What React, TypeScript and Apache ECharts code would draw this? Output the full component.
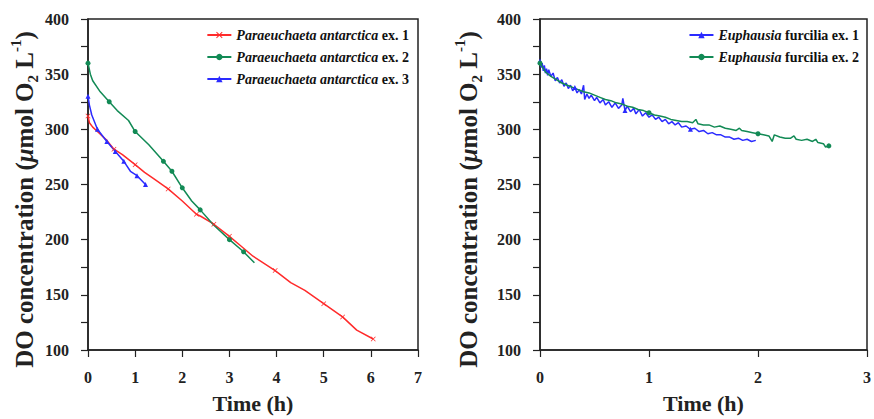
import React, { useEffect, useRef } from "react";
import * as echarts from "echarts";

// Left panel: Paraeuchaeta antarctica (time h, DO µmol O2 L-1)
const para1: number[][] = [
  [0, 312], [0.03, 306], [0.1, 302], [0.2, 298], [0.4, 290], [0.55, 282], [0.73, 277], [1.0, 268], [1.2, 261],
  [1.4, 255], [1.7, 246], [2.0, 235], [2.3, 223], [2.4, 221], [2.67, 214], [3.0, 203], [3.25, 194], [3.5, 185],
  [3.97, 172], [4.3, 161], [4.6, 154], [5.0, 142], [5.4, 130], [5.7, 118], [6.05, 110],
];
const para2: number[][] = [
  [0, 360], [0.05, 350], [0.1, 344], [0.26, 334], [0.45, 325], [0.62, 317], [0.86, 308], [1.0, 298], [1.29, 286],
  [1.6, 271], [1.78, 262], [2.0, 247], [2.2, 235], [2.38, 227], [2.67, 213], [3.0, 200], [3.3, 189],
  [3.53, 179],
];
const para3: number[][] = [
  [0, 330], [0.03, 322], [0.08, 313], [0.2, 300], [0.4, 289], [0.58, 280], [0.76, 271], [0.9, 262], [1.04, 258],
  [1.22, 250],
];

// Right panel: Euphausia furcilia
const euph1: number[][] = [
  [0, 362], [0.01, 356], [0.02, 360], [0.03, 353], [0.04, 358], [0.05, 351], [0.06, 355], [0.07, 349],
  [0.08, 354], [0.1, 348], [0.12, 351], [0.14, 344], [0.16, 347], [0.18, 342], [0.2, 345], [0.22, 339],
  [0.24, 342], [0.26, 337], [0.28, 340], [0.3, 335], [0.32, 338], [0.34, 333], [0.36, 336], [0.38, 332],
  [0.4, 340], [0.41, 327], [0.43, 332], [0.45, 328], [0.47, 331], [0.5, 326], [0.52, 329], [0.55, 324],
  [0.58, 327], [0.6, 322], [0.63, 325], [0.66, 320], [0.69, 324], [0.72, 319], [0.75, 322], [0.76, 328],
  [0.78, 317], [0.8, 321], [0.83, 316], [0.86, 319], [0.88, 314], [0.91, 318], [0.94, 312], [0.97, 315],
  [1.0, 311], [1.03, 313], [1.06, 309], [1.09, 311], [1.12, 307], [1.15, 309], [1.18, 305], [1.21, 307],
  [1.24, 304], [1.27, 306], [1.3, 302], [1.34, 303], [1.38, 300], [1.42, 301], [1.46, 298], [1.5, 299],
  [1.54, 296], [1.58, 297], [1.62, 295], [1.66, 295], [1.7, 293], [1.74, 293], [1.78, 291], [1.82, 292],
  [1.86, 290], [1.9, 291], [1.94, 289], [1.98, 290],
];
const euph2: number[][] = [
  [0, 360], [0.05, 352], [0.1, 348], [0.15, 345], [0.2, 342], [0.25, 340], [0.3, 338], [0.35, 336],
  [0.4, 334], [0.45, 333], [0.5, 331], [0.55, 329], [0.6, 327], [0.65, 326], [0.7, 324], [0.75, 323],
  [0.8, 321], [0.85, 320], [0.9, 318], [0.95, 317], [1.0, 315], [1.05, 313], [1.1, 312], [1.15, 311],
  [1.2, 309], [1.25, 308], [1.3, 307], [1.35, 307], [1.4, 306], [1.43, 309], [1.45, 305], [1.5, 304],
  [1.55, 304], [1.6, 302], [1.65, 303], [1.7, 301], [1.75, 300], [1.8, 299], [1.83, 301], [1.85, 299],
  [1.9, 298], [1.95, 297], [2.0, 296], [2.05, 295], [2.1, 294], [2.13, 289], [2.15, 295], [2.2, 293],
  [2.25, 292], [2.3, 292], [2.33, 294], [2.35, 291], [2.4, 290], [2.45, 291], [2.5, 289], [2.53, 291],
  [2.55, 288], [2.6, 287], [2.62, 284], [2.65, 285],
];

const names = [
  "Paraeuchaeta antarctica ex. 1",
  "Paraeuchaeta antarctica ex. 2",
  "Paraeuchaeta antarctica ex. 3",
  "Euphausia furcilia ex. 1",
  "Euphausia furcilia ex. 2",
];

const RED = "#ff2b2b";
const GREEN = "#128a55";
const BLUE = "#2b2bff";
const FONT = "'Liberation Serif', 'Times New Roman', serif";
const XSYM = "path://M0,1L1,0L5,4L9,0L10,1L6,5L10,9L9,10L5,6L1,10L0,9L4,5Z";

function marked(data: number[][], idx: number[]) {
  return data.map((d, i) => (idx.indexOf(i) >= 0 ? { value: d } : { value: d, symbol: "none" }));
}

export default function App() {
  const ref = useRef<HTMLDivElement>(null);
  useEffect(() => {
    document.body.style.margin = "0";
    const chart = echarts.init(ref.current!, null, { renderer: "svg" });
    const axisLine = { lineStyle: { color: "#222", width: 1.5 } };
    const labelStyle = { fontFamily: FONT, fontWeight: "bold" as const, fontSize: 16, color: "#222" };
    const yName = "DO concentration ({mu|μ}mol O{sub|2} L{sup|-1})";
    const nameRich = {
      mu: { fontFamily: FONT, fontWeight: "bold", fontStyle: "italic", fontSize: 25, lineHeight: 32, color: "#222" },
      sub: { fontFamily: FONT, fontWeight: "bold", fontSize: 15, lineHeight: 15, verticalAlign: "bottom", color: "#222" },
      sup: { fontFamily: FONT, fontWeight: "bold", fontSize: 15, lineHeight: 15, verticalAlign: "top", color: "#222" },
    };
    const yAxisBase = (gridIndex: number, gap: number) => ({
      type: "value",
      gridIndex,
      min: 100,
      max: 400,
      interval: 50,
      name: yName,
      nameLocation: "middle",
      nameGap: gap,
      nameTextStyle: {
        fontFamily: FONT, fontWeight: "bold", fontSize: 25, lineHeight: 32, color: "#222",
        padding: [0, 30, 0, 0], rich: nameRich,
      },
      axisLine: { show: true, ...axisLine },
      axisTick: { show: true, inside: false, length: 7, lineStyle: { color: "#222", width: 1.2 } },
      minorTick: { show: true, splitNumber: 2, length: 7, lineStyle: { color: "#222", width: 1.2 } },
      splitLine: { show: false },
      axisLabel: { ...labelStyle, margin: 19 },
    });
    const xAxisBase = (gridIndex: number, max: number) => ({
      type: "value",
      gridIndex,
      min: 0,
      max,
      interval: 1,
      name: "Time (h)",
      nameLocation: "middle",
      nameGap: 42,
      nameTextStyle: { fontFamily: FONT, fontWeight: "bold", fontSize: 22, color: "#222" },
      axisLine: { show: true, onZero: false, ...axisLine },
      axisTick: { show: true, inside: false, length: 7, lineStyle: { color: "#222", width: 1.2 } },
      splitLine: { show: false },
      axisLabel: { ...labelStyle, margin: 19 },
    });
    const legendRich = {
      i: { fontFamily: FONT, fontWeight: "bold", fontStyle: "italic", fontSize: 14, color: "#111" },
      b: { fontFamily: FONT, fontWeight: "bold", fontSize: 14, color: "#111" },
    };
    const lineSeries = (name: string, data: any[], color: string, symbol: string, xi: number, size: number) => ({
      type: "line",
      name,
      xAxisIndex: xi,
      yAxisIndex: xi,
      data,
      smooth: false,
      symbol,
      symbolSize: size,
      showSymbol: true,
      lineStyle: { color, width: 1.5 },
      itemStyle: { color },
      z: 3,
    });
    chart.setOption({
      animation: false,
      backgroundColor: "#fff",
      grid: [
        { left: 88, right: 456, top: 19, bottom: 64, show: true, borderColor: "#222", borderWidth: 1.5, backgroundColor: "transparent" },
        { left: 540, right: 4, top: 19, bottom: 64, show: true, borderColor: "#222", borderWidth: 1.5, backgroundColor: "transparent" },
      ],
      xAxis: [xAxisBase(0, 7), xAxisBase(1, 3)],
      yAxis: [yAxisBase(0, 48), yAxisBase(1, 56)],
      legend: [
        {
          data: names.slice(0, 3),
          orient: "vertical",
          right: 460,
          top: 23,
          itemWidth: 24,
          itemHeight: 8,
          itemGap: 8,
          textStyle: { fontFamily: FONT, fontWeight: "bold", fontSize: 14, color: "#111", rich: legendRich },
          formatter: (n: string) => {
            const k = n.lastIndexOf(" ex.");
            return "{i|" + n.slice(0, k) + "}{b|" + n.slice(k) + "}";
          },
        },
        {
          data: names.slice(3),
          orient: "vertical",
          right: 10,
          top: 23,
          itemWidth: 24,
          itemHeight: 8,
          itemGap: 8,
          textStyle: { fontFamily: FONT, fontWeight: "bold", fontSize: 14, color: "#111", rich: legendRich },
          formatter: (n: string) => {
            const k = n.indexOf(" ");
            return "{i|" + n.slice(0, k) + "}{b|" + n.slice(k) + "}";
          },
        },
      ],
      series: [
        lineSeries(names[0], marked(para1, [0, 5, 7, 10, 12, 14, 15, 18, 21, 22, 24]), RED, XSYM, 0, 5),
        lineSeries(names[1], marked(para2, [0, 4, 7, 9, 10, 11, 13, 15, 16]), GREEN, "circle", 0, 5),
        lineSeries(names[2], marked(para3, [0, 3, 4, 5, 6, 8, 9]), BLUE, "triangle", 0, 5),
        lineSeries(names[3], marked(euph1, [0, 20, 40, 60, 76]), BLUE, "triangle", 1, 5),
        lineSeries(names[4], marked(euph2, [0, 20, 42, 59]), GREEN, "circle", 1, 5),
      ],
    });
    return () => chart.dispose();
  }, []);
  return <div ref={ref} style={{ position: "fixed", left: 0, top: 0, width: 874, height: 419 }} />;
}
